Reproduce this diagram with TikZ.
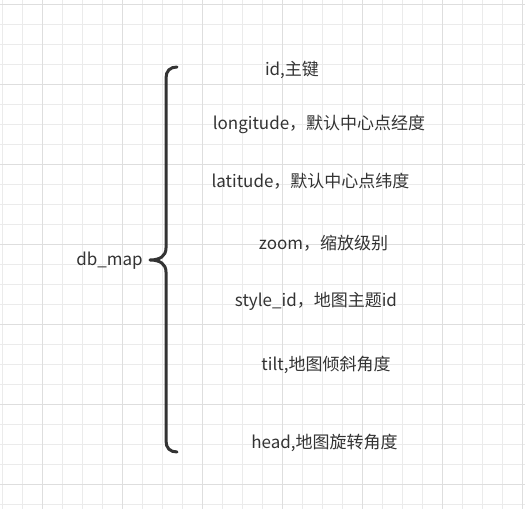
\documentclass[tikz,border=0pt]{standalone}
\usepackage{fontspec}
\setmainfont{Noto Sans CJK SC}
\usepackage{tikz}
\usetikzlibrary{backgrounds}
\definecolor{txtgray}{HTML}{333333}
\definecolor{gridminor}{HTML}{EBEBEB}
\definecolor{gridmajor}{HTML}{DEDEDE}
\tikzset{
    field/.style={text=txtgray,inner sep=0pt,font=\fontsize{12.75}{15}\selectfont},
    bracepath/.style={draw=txtgray,line width=2.25pt,line cap=round,line join=round}
}

\begin{document}
\begin{tikzpicture}[x=0.75pt,y=-0.75pt]
\useasboundingbox (0,0) rectangle (525,509);
% grid
\foreach \gx in {2.5,22.5,...,522.5} \draw [gridminor,line width=0.75pt] (\gx,0) -- (\gx,509);
\foreach \gy in {5,25,...,505} \draw [gridminor,line width=0.75pt] (0,\gy) -- (525,\gy);
\foreach \gx in {42.5,122.5,...,522.5} \draw [gridmajor,line width=0.75pt] (\gx,0) -- (\gx,509);
\foreach \gy in {5,85,...,485} \draw [gridmajor,line width=0.75pt] (0,\gy) -- (525,\gy);
\begin{scope}[every node/.style={field}]
    \node (db) at (109.5,261) {db\_map};
    \node (id) at (292,70) {id,主键};
    \node (lon) at (319,124) {longitude，默认中心点经度};
    \node (lat) at (310.5,181) {latitude，默认中心点纬度};
    \node (zoom) at (323.5,243) {zoom，缩放级别};
    \node (style) at (316,301) {style\_id，地图主题id};
    \node (tilt) at (326,365) {tilt,地图倾斜角度};
    \node (head) at (324.5,443) {head,地图旋转角度};
\end{scope}
% brace
\draw [bracepath] (177,67) .. controls (170,67) and (166,71) .. (166,78)
    -- (166,248) .. controls (166,256) and (160,260) .. (150,260)
    .. controls (160,260) and (166,264) .. (166,272)
    -- (166,441) .. controls (166,448) and (170,452) .. (177,452);
\end{tikzpicture}
\end{document}
